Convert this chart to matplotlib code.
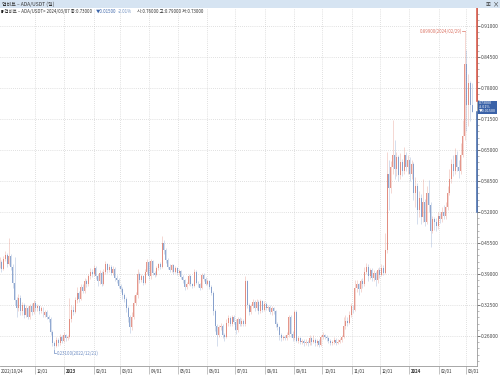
import matplotlib
matplotlib.use('Agg')
import matplotlib.pyplot as plt
import matplotlib.transforms as mtransforms
from matplotlib.ticker import MultipleLocator, FormatStrFormatter
from matplotlib.patches import Rectangle
import numpy as np
import pandas as pd

plt.rcParams['font.family'] = ['Noto Sans CJK KR', 'DejaVu Sans']

#==============================================================================
# Data : ADA/USDT, 2-day candles from 2022/10/24 (prices in 1/1000 USDT)
#==============================================================================
start = pd.Timestamp('2022-10-24')
first_open = 410
closes = [415, 400, 422, 430, 412, 428, 405, 372, 335, 318,
          340, 312, 325, 305, 318, 300, 322, 310, 330, 318,
          322, 312, 318, 305, 310, 300, 296, 268, 245, 240,
          252, 245, 258, 250, 262, 255, 258, 295, 315, 310,
          335, 350, 338, 362, 355, 375, 368, 385, 395, 390,
          402, 385, 375, 392, 370, 395, 410, 398, 405, 392,
          400, 382, 378, 365, 358, 345, 338, 318, 300, 278,
          300, 330, 345, 390, 378, 385, 372, 395, 415, 385,
          418, 392, 388, 402, 410, 405, 455, 440, 420, 405,
          398, 408, 395, 402, 392, 396, 384, 378, 362, 370,
          385, 368, 365, 395, 372, 368, 360, 388, 380, 370,
          375, 362, 350, 312, 282, 262, 278, 282, 262, 258,
          288, 298, 285, 300, 290, 272, 295, 285, 292, 285,
          375, 325, 310, 322, 332, 318, 332, 312, 333, 315,
          328, 318, 320, 310, 318, 312, 285, 278, 262, 255,
          258, 256, 262, 300, 265, 256, 310, 250, 255, 248,
          250, 245, 248, 246, 255, 248, 252, 245, 250, 242,
          258, 262, 258, 255, 250, 245, 248, 252, 245, 248,
          252, 258, 280, 292, 288, 305, 322, 315, 360, 368,
          358, 375, 368, 395, 405, 385, 398, 382, 392, 378,
          398, 388, 402, 392, 440, 600, 570, 615, 640, 610,
          635, 598, 625, 605, 640, 615, 630, 600, 620, 560,
          575, 525, 550, 510, 540, 500, 560, 535, 480, 505,
          500, 490, 512, 505, 520, 512, 530, 560, 590, 620,
          605, 640, 615, 605, 640, 680, 830, 745, 790, 745,
          730]
highs = [425, 420, 428, 438, 435, 466, 432, 410, 425, 342,
         348, 345, 332, 330, 325, 322, 328, 330, 336, 334,
         328, 326, 322, 320, 315, 314, 304, 300, 272, 250,
         258, 256, 264, 262, 268, 265, 262, 340, 325, 322,
         342, 362, 355, 368, 370, 382, 380, 390, 402, 400,
         408, 406, 390, 398, 396, 400, 418, 414, 410, 408,
         406, 404, 388, 382, 370, 362, 350, 342, 322, 305,
         310, 345, 352, 400, 395, 390, 388, 400, 422, 418,
         422, 420, 396, 406, 414, 415, 470, 462, 445, 424,
         410, 412, 410, 406, 405, 400, 398, 388, 380, 374,
         390, 388, 372, 400, 398, 376, 372, 392, 392, 384,
         380, 378, 366, 354, 316, 285, 284, 288, 286, 266,
         295, 304, 302, 305, 304, 295, 300, 300, 298, 295,
         385, 378, 330, 328, 338, 336, 338, 335, 338, 336,
         333, 332, 326, 324, 322, 320, 315, 290, 282, 266,
         262, 262, 268, 305, 304, 270, 314, 314, 260, 258,
         254, 253, 254, 252, 262, 258, 262, 255, 254, 254,
         262, 268, 265, 262, 258, 254, 252, 258, 256, 254,
         256, 262, 300, 305, 300, 312, 330, 326, 378, 378,
         372, 380, 382, 405, 413, 410, 402, 402, 398, 396,
         402, 405, 410, 408, 476, 645, 630, 628, 713, 670,
         645, 640, 644, 632, 657, 645, 640, 635, 630, 625,
         594, 580, 565, 558, 590, 548, 575, 587, 540, 512,
         510, 508, 520, 518, 530, 535, 540, 575, 610, 632,
         640, 655, 648, 630, 665, 713, 899, 860, 810, 795,
         790]
lows = [402, 395, 398, 418, 405, 408, 398, 360, 325, 300,
        312, 305, 305, 298, 300, 295, 296, 305, 306, 312,
        312, 306, 308, 300, 300, 295, 290, 262, 238, 231,
        236, 240, 242, 246, 248, 250, 252, 255, 290, 304,
        308, 330, 332, 335, 350, 350, 362, 365, 380, 384,
        386, 380, 365, 370, 364, 366, 390, 392, 394, 388,
        388, 376, 372, 360, 352, 338, 332, 310, 290, 266,
        272, 296, 325, 340, 372, 374, 366, 368, 390, 380,
        380, 388, 384, 385, 398, 400, 402, 432, 414, 400,
        394, 395, 390, 392, 388, 388, 380, 372, 356, 358,
        366, 364, 360, 362, 368, 362, 356, 358, 375, 366,
        366, 358, 345, 305, 270, 240, 258, 272, 255, 250,
        255, 282, 280, 280, 285, 265, 268, 280, 282, 280,
        280, 318, 305, 306, 318, 312, 314, 306, 308, 310,
        312, 314, 314, 306, 305, 306, 278, 272, 252, 250,
        252, 252, 252, 258, 258, 250, 252, 247, 245, 244,
        244, 240, 242, 240, 242, 242, 245, 240, 238, 237,
        240, 254, 254, 250, 246, 242, 242, 243, 242, 243,
        245, 248, 255, 275, 282, 285, 300, 308, 312, 352,
        345, 352, 360, 365, 390, 375, 380, 375, 375, 365,
        372, 382, 385, 388, 390, 435, 525, 560, 600, 590,
        595, 585, 590, 595, 600, 605, 600, 585, 590, 545,
        530, 495, 510, 495, 500, 490, 495, 520, 447, 475,
        482, 480, 485, 498, 500, 505, 505, 525, 555, 580,
        595, 600, 605, 592, 600, 635, 670, 690, 700, 710,
        730]

tick_dates = ['2022-12-01', '2023-01-01', '2023-02-01', '2023-03-01', '2023-04-01',
              '2023-05-01', '2023-06-01', '2023-07-01', '2023-08-01', '2023-09-01',
              '2023-10-01', '2023-11-01', '2023-12-01', '2024-01-01', '2024-02-01',
              '2024-03-01']
tick_labels = ['12/01', '2023', '02/01', '03/01', '04/01', '05/01', '06/01', '07/01',
               '08/01', '09/01', '10/01', '11/01', '12/01', '2024', '02/01', '03/01']

UP = '#dc7566'
DN = '#6d8cc2'

c = np.array(closes) / 1000
h = np.array(highs) / 1000
l = np.array(lows) / 1000
o = np.concatenate([[first_open / 1000], c[:-1]])
x = np.arange(len(c)) * 2 + 0.5
col = np.where(c >= o, UP, DN)

#==============================================================================
# Figure
#==============================================================================
fig = plt.figure(figsize=(5, 3.76), dpi=100)
ax = fig.add_axes([0, 10 / 376, 477 / 500, 358 / 376])

ax.vlines(x, l, h, colors=col, lw=0.45, alpha=0.45, zorder=3)
body = np.where(np.abs(c - o) < 0.001, 0.001, c - o)
ax.bar(x, body, bottom=o, width=1.05, color=col, alpha=0.75, lw=0, zorder=3)

ax.set_xlim(1.0, 505.7)
ax.set_ylim(0.1971, 0.9478)

# y axis on the right
yt = 0.26 + 0.065 * np.arange(11)
ax.set_yticks(yt)
ax.yaxis.set_minor_locator(MultipleLocator(0.013))
ax.yaxis.set_major_formatter(FormatStrFormatter('%.5f'))
ax.yaxis.tick_right()
ax.tick_params(axis='y', which='major', labelsize=3.5, length=2, width=0.5,
               pad=1, colors='#444444')
ax.tick_params(axis='y', which='minor', length=1.2, width=0.4, colors='#888888')

# x axis : month ticks, labels on the right of each tick
xt = [(pd.Timestamp(d) - start).days for d in tick_dates]
ax.set_xticks(xt)
ax.tick_params(axis='x', length=6, width=0.5, color='#aaaaaa', labelbottom=False)
trans = mtransforms.blended_transform_factory(ax.transData, ax.transAxes)
for xi, lab in zip(xt, tick_labels):
    bold = lab in ('2023', '2024')
    ax.text(xi + 2.0, -0.014, lab, transform=trans, fontsize=3.1, va='center',
            ha='left', color='#333333', fontweight='bold' if bold else 'normal',
            clip_on=False)
ax.text(1.5, -0.014, '2022/10/24', transform=trans, fontsize=3.1, va='center',
        ha='left', color='#333333', clip_on=False)

ax.grid(True, which='major', linestyle=(0, (1, 2)), color='#c4c4c4', lw=0.5)
ax.set_axisbelow(True)
for s in ['top', 'left']:
    ax.spines[s].set_visible(False)
ax.spines['right'].set_color('#999999')
ax.spines['bottom'].set_color('#999999')
ax.spines['right'].set_linewidth(0.6)
ax.spines['bottom'].set_linewidth(0.6)

# price range marker on the right spine
ytr = mtransforms.blended_transform_factory(ax.transAxes, ax.transData)
ax.plot([1, 1], [0.752, 0.9478], transform=ytr, color='#d9503f', lw=1.1, clip_on=False, zorder=5)
ax.plot([1, 1], [0.52, 0.73], transform=ytr, color='#3d66aa', lw=1.1, clip_on=False, zorder=5)
ax.text(1.004, 0.7395, '0.73000\n-2.01%\n\u25bc0.01500', transform=ytr, fontsize=2.7,
        color='white', va='center', ha='left', linespacing=0.95,
        bbox=dict(boxstyle='square,pad=0.2', fc='#3a62a8', ec='none'),
        clip_on=False, zorder=6)

# max / min labels
ax.plot([489.8, 492.5], [0.899, 0.899], color=UP, lw=0.5, zorder=4)
ax.text(489.5, 0.899, '0.89900(2024/02/29)', fontsize=3.2, color=UP,
        ha='right', va='center')
ax.plot([58.5, 58.5, 60.5], [0.231, 0.2245, 0.2245], color=DN, lw=0.5, zorder=4)
ax.text(61, 0.2245, '0.23100(2022/12/21)', fontsize=3.2, color=DN,
        ha='left', va='center')

# header bar + info line
fig.patches.append(Rectangle((0, 1 - 8 / 376), 1, 8 / 376, transform=fig.transFigure,
                             fc='#d6e4f2', ec='none', zorder=0))
fig.text(2 / 500, 1 - 4.5 / 376, '업비트 – ADA/USDT (일)', fontsize=3.6,
         color='#333333', va='center')
fig.text(486 / 500, 1 - 4.5 / 376, '\u25a3', fontsize=3.5, color='#333333', va='center')
fig.text(493 / 500, 1 - 4.5 / 376, '\u00d7', fontsize=4.5, color='#333333', va='center')

yy = 1 - 11.5 / 376
fig.text(0.2 / 500, yy, '\u25ae', fontsize=3.0, color='black', va='center')
fig.text(2.5 / 500, yy, '<업비트 – ADA/USDT> 2024/03/07 종:0.73000', fontsize=3.2,
         color='#333333', va='center')
fig.text(96 / 500, yy, '\u25bc0.01500', fontsize=3.2, color='#3d66aa', va='center')
fig.text(118 / 500, yy, '-2.01%', fontsize=3.2, color='#6f8fc0', va='center')
fig.text(137 / 500, yy, '시:0.76000 고:0.79000 저:0.73000', fontsize=3.2,
         color='#333333', va='center')

fig.savefig('out.png', dpi=100)
